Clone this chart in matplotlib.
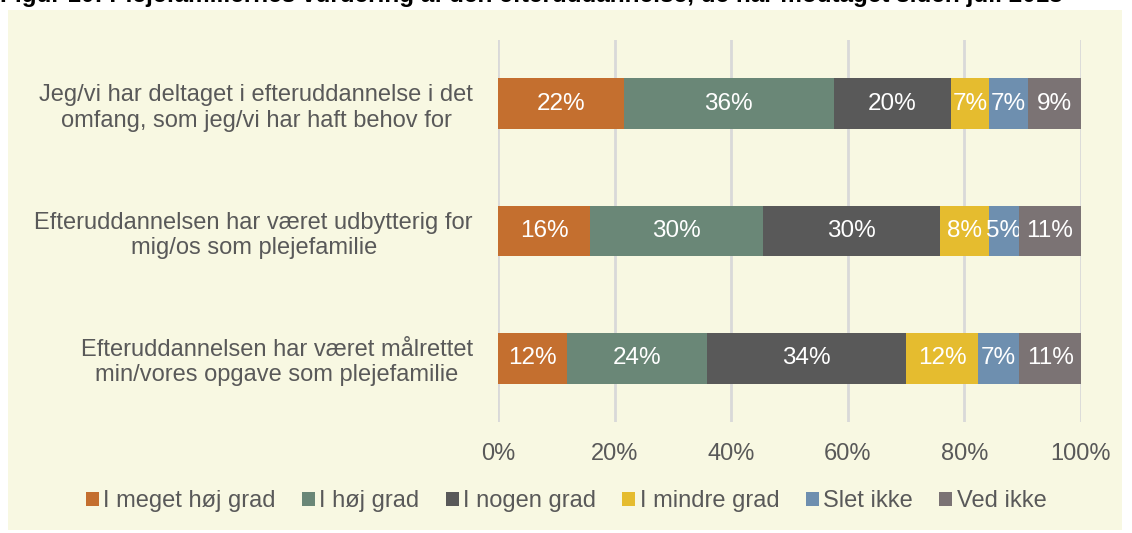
import matplotlib.pyplot as plt
import numpy as np
from matplotlib.patches import Rectangle

plt.rcParams['font.family'] = ['Liberation Sans', 'DejaVu Sans']

title = "Figur 10: Plejefamiliernes vurdering af den efteruddannelse, de har modtaget siden juli 2018"

categories = [
    "Jeg/vi har deltaget i efteruddannelse i det\nomfang, som jeg/vi har haft behov for",
    "Efteruddannelsen har været udbytterig for\nmig/os som plejefamilie",
    "Efteruddannelsen har været målrettet\nmin/vores opgave som plejefamilie",
]
series_names = ["I meget høj grad", "I høj grad", "I nogen grad", "I mindre grad", "Slet ikke", "Ved ikke"]
# shares per series (rows follow categories)
meget_hoej = [21.6, 15.8, 11.8]
hoej = [36.0, 29.7, 24.0]
nogen = [20.1, 30.4, 34.2]
mindre = [6.6, 8.4, 12.4]
slet_ikke = [6.6, 5.0, 7.0]
ved_ikke = [9.1, 10.7, 10.6]

colors = ["#C46F2F", "#6A8777", "#595959", "#E5BC2F", "#6E8FAF", "#7B7374"]
bg = "#F8F8E2"
txt = "#595959"
fs = 17

fig = plt.figure(figsize=(11.32, 5.33), dpi=100)
fig.patch.set_facecolor("white")
fig.patches.append(Rectangle((8 / 1132, 0.006), 1114 / 1132, 1 - 10 / 533 - 0.006,
                             transform=fig.transFigure, facecolor=bg, edgecolor="none", zorder=-5))
fig.text(0.0, 1 - 2 / 533, title, fontsize=17.5, fontweight="bold", ha="left", va="baseline", color="black")

ax = fig.add_axes([498 / 1132, 1 - 422 / 533, 583 / 1132, 382 / 533])
ax.patch.set_alpha(0)

data = [meget_hoej, hoej, nogen, mindre, slet_ikke, ved_ikke]
y = np.arange(len(categories))
left = np.zeros(len(categories))
for vals, name, c in zip(data, series_names, colors):
    vals = np.array(vals)
    bars = ax.barh(y, vals, left=left, height=0.4, color=c, label=name, zorder=3)
    ax.bar_label(bars, labels=[f"{v:.0f}%" for v in vals], label_type="center",
                 color="white", fontsize=17.5)
    left += vals

ax.set_ylim(2.5, -0.5)
ax.set_xlim(0, 100)
ax.set_xticks(np.arange(0, 101, 20))
ax.set_xticklabels([f"{t}%" for t in range(0, 101, 20)])
ax.set_yticks(y)
ax.set_yticklabels(categories, ma="center")
ax.tick_params(axis="both", length=0, labelsize=fs, labelcolor=txt)
ax.tick_params(axis="x", pad=15)
ax.tick_params(axis="y", pad=18)
ax.grid(axis="x", color="#D9D9D9", linewidth=2, zorder=0)
for s in ax.spines.values():
    s.set_visible(False)

fig.legend(loc="center", bbox_to_anchor=(0.5, 1 - 501 / 533), ncol=6, frameon=False,
           fontsize=fs, labelcolor=txt, handlelength=0.55, handleheight=0.55,
           handletextpad=0.2, columnspacing=1.1)

fig.savefig("out.png", dpi=100, facecolor="white")
